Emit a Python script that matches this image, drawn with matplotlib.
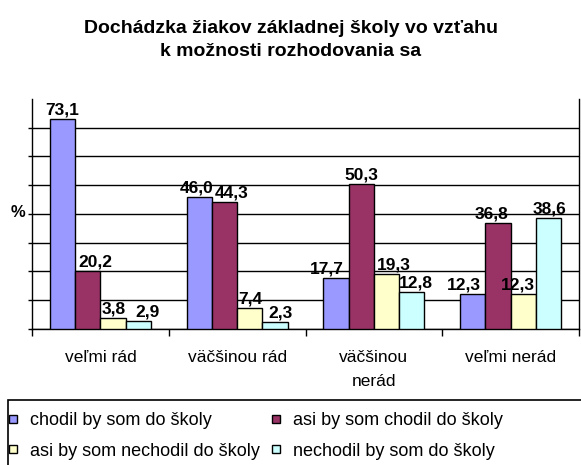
import numpy as np
import matplotlib.pyplot as plt
from matplotlib.lines import Line2D
from matplotlib.patches import Rectangle

plt.rcParams['font.family'] = ['Liberation Sans', 'DejaVu Sans']

title = 'Dochádzka žiakov základnej školy vo vzťahu\nk možnosti rozhodovania sa'
categories = ['veľmi rád', 'väčšinou rád', 'väčšinou\nnerád', 'veľmi nerád']
series = ['chodil by som do školy', 'asi by som chodil do školy',
          'asi by som nechodil do školy', 'nechodil by som do školy']
values = [
    [73.1, 46.0, 17.7, 12.3],
    [20.2, 44.3, 50.3, 36.8],
    [3.8, 7.4, 19.3, 12.3],
    [2.9, 2.3, 12.8, 38.6],
]
colors = ['#9999FF', '#993366', '#FFFFCC', '#CCFFFF']
# horizontal nudges (px) of the value labels, as placed in the original
nudge = [
    [0, -3, -9, -9],
    [8, 7, 0, -6],
    [1, 1, 7, -5],
    [9, 5, 4, 1],
]

fig = plt.figure(figsize=(5.81, 4.65), dpi=100)
ax = fig.add_axes([0.0551, 0.2925, 0.9415, 0.4946])

x = np.arange(len(categories))
w = 0.185
for i, vals in enumerate(values):
    pos = x + (i - 1.5) * w
    bars = ax.bar(pos, vals, w, color=colors[i], edgecolor='black',
                  linewidth=1, zorder=3)
    for j, (b, v) in enumerate(zip(bars, vals)):
        ax.annotate(f'{v:.1f}'.replace('.', ','),
                    (b.get_x() + b.get_width() / 2, v),
                    xytext=(nudge[i][j] * 0.72, 1), textcoords='offset points',
                    ha='center', va='bottom', fontsize=12.5,
                    fontweight='bold', zorder=4)

ax.set_ylim(0, 80)
ax.set_xlim(-0.5, 3.5)
ax.set_yticks(np.arange(0, 80, 10))
ax.set_yticklabels([])
ax.yaxis.grid(True, color='black', linewidth=1, zorder=0)
ax.tick_params(axis='y', length=3, width=1, color='black')
ax.set_xticks(np.arange(-0.5, 4, 1))
ax.set_xticklabels([])
ax.set_xticks(x, minor=True)
ax.set_xticklabels(categories, minor=True, fontsize=12.5, linespacing=1.8)
ax.tick_params(axis='x', which='major', length=5, width=1)
ax.tick_params(axis='x', which='minor', length=0, pad=15)
ax.spines['top'].set_visible(False)
for s in ['left', 'right', 'bottom']:
    ax.spines[s].set_linewidth(1)

fig.text(18 / 581, 1 - 212 / 465, '%', fontsize=12, fontweight='bold',
         ha='center', va='center')
fig.text(0.5, 1 - 40 / 465, title, fontsize=14, fontweight='bold',
         ha='center', va='center', linespacing=1.45)

# legend frame runs off the right and bottom edges as in the original
fig.add_artist(Rectangle((8 / 581, -0.1), 1.1, 1.1 - 400 / 465,
                         transform=fig.transFigure, fill=False,
                         edgecolor='black', linewidth=1.2, snap=False))
handles = [Line2D([], [], marker='s', linestyle='none', markersize=6,
                  markerfacecolor=c, markeredgecolor='black')
           for c in colors]
order = [0, 2, 1, 3]
leg = fig.legend([handles[k] for k in order], [series[k] for k in order],
                 loc='upper left', ncol=2,
                 bbox_to_anchor=(7 / 581, 1 - 412 / 465), fontsize=13,
                 frameon=False, borderaxespad=0, borderpad=0,
                 handlelength=0.7, handletextpad=0.6, labelspacing=0.75,
                 columnspacing=0.5)

fig.savefig('out.png', dpi=100)
